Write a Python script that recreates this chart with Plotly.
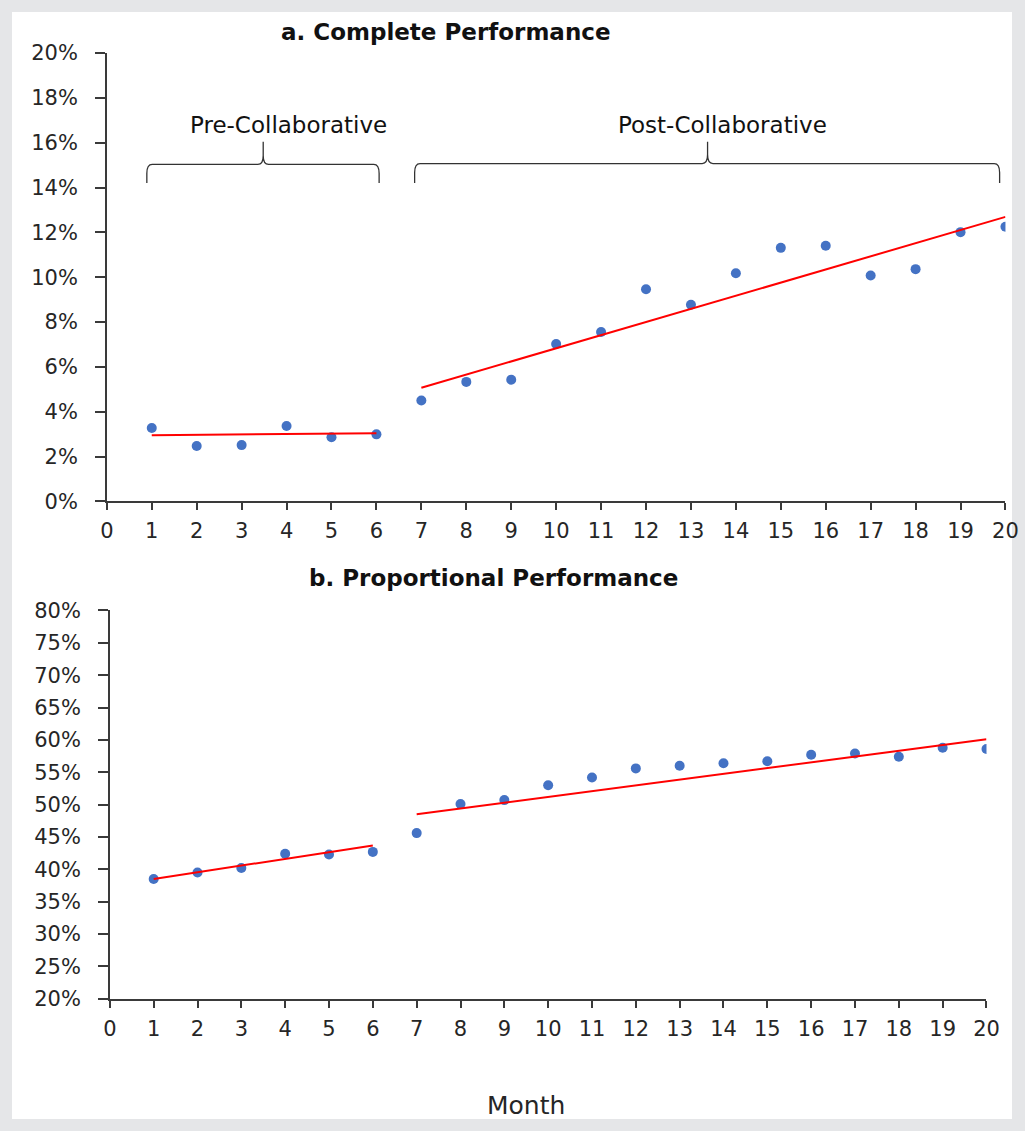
import plotly.graph_objects as go

W, H = 1025, 1131

months = list(range(1, 21))
complete_pct = [3.27, 2.47, 2.51, 3.36, 2.86, 2.99,
                4.50, 5.33, 5.43, 7.02, 7.56, 9.46, 8.77, 10.18,
                11.31, 11.40, 10.08, 10.36, 12.01, 12.25]
proportional_pct = [38.5, 39.5, 40.2, 42.4, 42.3, 42.7,
                    45.6, 50.1, 50.7, 53.0, 54.2, 55.6, 56.0, 56.4,
                    56.7, 57.7, 57.9, 57.4, 58.8, 58.6]
# trend-line endpoints (month, value %)
trend_a_pre_x, trend_a_pre_y = [1, 6], [2.95, 3.04]
trend_a_post_x, trend_a_post_y = [7, 20], [5.07, 12.69]
trend_b_pre_x, trend_b_pre_y = [1, 6], [38.5, 43.7]
trend_b_post_x, trend_b_post_y = [7, 20], [48.5, 60.1]

x_ticks = list(range(0, 21))
ya_ticks = [0, 2, 4, 6, 8, 10, 12, 14, 16, 18, 20]
yb_ticks = [20, 25, 30, 35, 40, 45, 50, 55, 60, 65, 70, 75, 80]

BLUE = "#4472C4"
RED = "#FF0000"
AX = "#3a3a3a"
TXT = "#262626"
GRAY = "#e5e6e8"

# layout placement helpers (pixel -> paper)
SX, OX, SY, OY = 0.982, 5.0, 0.978, 12.0
def px(x):
    return ((x - OX) / SX) / W
def py(y):
    return 1 - ((y - OY) / SY) / H

fig = go.Figure()

def pct(v):
    return [x / 100 for x in v]

fig.add_trace(go.Scatter(x=months, y=pct(complete_pct), mode="markers",
                         marker=dict(color=BLUE, size=10), xaxis="x", yaxis="y",
                         showlegend=False))
fig.add_trace(go.Scatter(x=trend_a_pre_x, y=pct(trend_a_pre_y), mode="lines",
                         line=dict(color=RED, width=2), xaxis="x", yaxis="y", showlegend=False))
fig.add_trace(go.Scatter(x=trend_a_post_x, y=pct(trend_a_post_y), mode="lines",
                         line=dict(color=RED, width=2), xaxis="x", yaxis="y", showlegend=False))

fig.add_trace(go.Scatter(x=months, y=pct(proportional_pct), mode="markers",
                         marker=dict(color=BLUE, size=10), xaxis="x2", yaxis="y2",
                         showlegend=False))
fig.add_trace(go.Scatter(x=trend_b_pre_x, y=pct(trend_b_pre_y), mode="lines",
                         line=dict(color=RED, width=2), xaxis="x2", yaxis="y2", showlegend=False))
fig.add_trace(go.Scatter(x=trend_b_post_x, y=pct(trend_b_post_y), mode="lines",
                         line=dict(color=RED, width=2), xaxis="x2", yaxis="y2", showlegend=False))

tickfont = dict(family="DejaVu Sans", size=21, color=TXT)

def xax(domain, anchor):
    return dict(domain=domain, anchor=anchor, range=[0, 20], tickmode="array",
                tickvals=x_ticks, ticktext=[str(t) for t in x_ticks],
                showgrid=False, zeroline=False, showline=True, linecolor=AX, linewidth=1.5,
                ticks="outside", ticklen=7, tickwidth=1.5, tickcolor=AX,
                tickfont=tickfont, ticklabelstandoff=3)

def yax(domain, anchor, rng, ticks):
    return dict(domain=domain, anchor=anchor, range=rng, tickmode="array",
                tickvals=[t / 100 for t in ticks], ticktext=[f"{t}%" for t in ticks],
                showgrid=False, zeroline=False, showline=True, linecolor=AX, linewidth=1.5,
                ticks="outside", ticklen=10, tickwidth=1.5, tickcolor=AX,
                tickfont=tickfont, ticklabelstandoff=13)

fig.update_layout(
    width=W, height=H,
    margin=dict(l=0, r=0, t=0, b=0),
    paper_bgcolor=GRAY,
    plot_bgcolor="white",
    xaxis=xax([px(105), px(1005)], "y"),
    yaxis=yax([py(501), py(53)], "x", [0, 0.20], ya_ticks),
    xaxis2=xax([px(108), px(986)], "y2"),
    yaxis2=yax([py(998), py(610)], "x2", [0.20, 0.80], yb_ticks),
)

shapes = [dict(type="rect", xref="paper", yref="paper", x0=max(px(10), 0), x1=1, y0=0,
               y1=min(py(5), 1), fillcolor="white", line=dict(width=0), layer="below")]

def brace(x0, x1, xt, yh, yend, ytip, dx=0.12):
    yh, yend, ytip = yh / 100, yend / 100, ytip / 100
    dy = 0.004
    p = (f"M {x0},{yend} L {x0},{yh - dy} Q {x0},{yh} {x0 + dx},{yh} "
         f"L {xt - dx},{yh} Q {xt},{yh} {xt},{yh + dy} L {xt},{ytip} "
         f"L {xt},{yh + dy} Q {xt},{yh} {xt + dx},{yh} "
         f"L {x1 - dx},{yh} Q {x1},{yh} {x1},{yh - dy} L {x1},{yend}")
    return dict(type="path", xref="x", yref="y", path=p,
                line=dict(color="#333333", width=1.3))

shapes.append(brace(0.89, 6.06, 3.48, 15.03, 14.2, 16.04))
shapes.append(brace(6.85, 19.87, 13.37, 15.07, 14.2, 16.04))
fig.update_layout(shapes=shapes)

labfont = dict(family="DejaVu Sans", size=23, color="#111111")
fig.add_annotation(x=4.04, y=0.168, xref="x", yref="y", text="Pre-Collaborative",
                   showarrow=False, font=labfont, xanchor="center", yanchor="middle")
fig.add_annotation(x=13.7, y=0.168, xref="x", yref="y", text="Post-Collaborative",
                   showarrow=False, font=labfont, xanchor="center", yanchor="middle")

titlefont = dict(family="DejaVu Sans", size=23, color="#111111")
fig.add_annotation(x=px(445), y=py(32), xref="paper", yref="paper",
                   text="<b>a. Complete Performance</b>", showarrow=False, font=titlefont,
                   xanchor="center", yanchor="middle")
fig.add_annotation(x=px(492), y=py(578), xref="paper", yref="paper",
                   text="<b>b. Proportional Performance</b>", showarrow=False, font=titlefont,
                   xanchor="center", yanchor="middle")
fig.add_annotation(x=px(525), y=py(1105), xref="paper", yref="paper",
                   text="Month", showarrow=False,
                   font=dict(family="DejaVu Sans", size=25, color=TXT),
                   xanchor="center", yanchor="middle")

bg_js = (
    "document.body.style.margin='0';"
    "document.body.style.overflow='hidden';"
    "var bg='linear-gradient(to right, " + GRAY + " 10px, rgba(0,0,0,0) 10px), "
    "linear-gradient(to bottom, " + GRAY + " 5px, white 5px)';"
    "document.documentElement.style.background=bg;"
    "document.body.style.background='transparent';"
)
fig.write_html("out.html", config={"displayModeBar": False}, post_script=bg_js)
